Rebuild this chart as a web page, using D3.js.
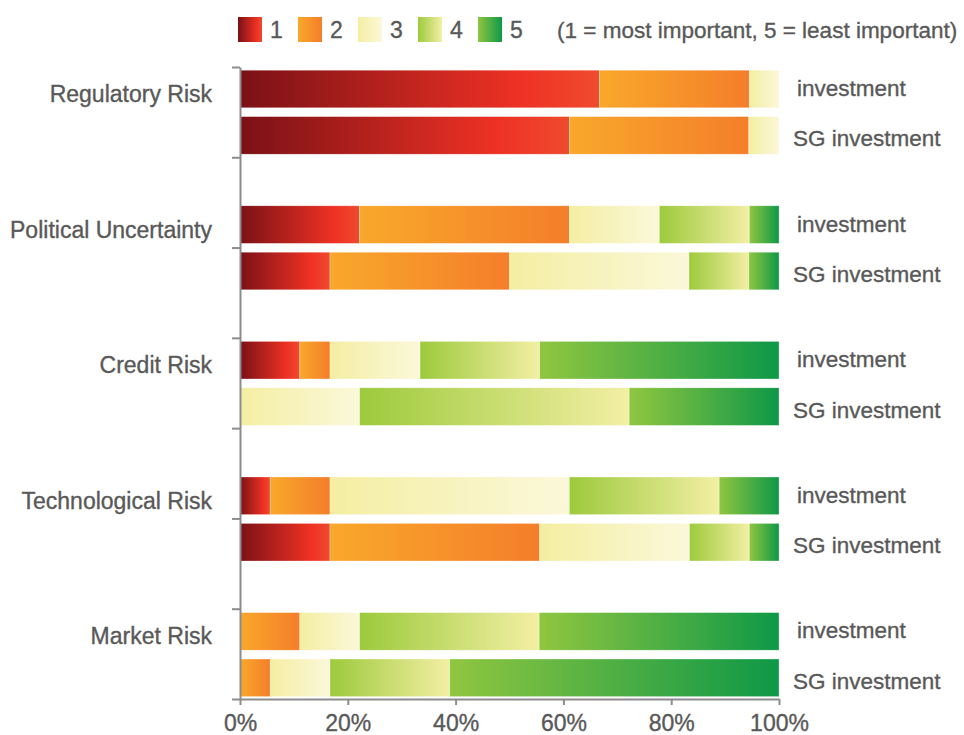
<!DOCTYPE html>
<html>
<head>
<meta charset="utf-8">
<script src="https://cdn.jsdelivr.net/npm/d3@7"></script>
<style>
  body { margin: 0; background: #fff; }
  svg { display: block; font-family: 'Liberation Sans', Arial, sans-serif; }
  .axis path, .axis line { stroke: #8c8c8c; stroke-width: 2; }
  .axis text { fill: #595959; font-size: 23px; stroke: #595959; stroke-width: 0.35; }
  .label { fill: #595959; font-size: 23px; stroke: #595959; stroke-width: 0.35; }
  .series-label, .note { font-size: 22.5px; }
</style>
</head>
<body>
<svg id="chart" width="964" height="735"></svg>
<script>
const categories = [
  'Regulatory Risk',
  'Political Uncertainty',
  'Credit Risk',
  'Technological Risk',
  'Market Risk'
];

const seriesNames = ['investment', 'SG investment'];

const levels = ['1', '2', '3', '4', '5'];

// share of answers per importance level (%), one row per category
const investmentShares = [
  [66.7, 27.8, 5.5, 0, 0],
  [22.2, 38.9, 16.7, 16.7, 5.5],
  [11.1, 5.6, 16.7, 22.2, 44.4],
  [5.6, 11.1, 44.4, 27.8, 11.1],
  [0, 11.1, 11.1, 33.3, 44.5]
];

const sgInvestmentShares = [
  [61.1, 33.3, 5.6, 0, 0],
  [16.7, 33.3, 33.3, 11.1, 5.6],
  [0, 0, 22.2, 50.0, 27.8],
  [16.7, 38.9, 27.8, 11.1, 5.5],
  [0, 5.6, 11.1, 22.2, 61.1]
];

const xTicks = [0, 0.2, 0.4, 0.6, 0.8, 1];

const legendNote = '(1 = most important, 5 = least important)';

const gradientStops = {
  '1': [[0, '#7a1116'], [0.78, '#ee3124'], [1, '#ef4b2e']],
  '2': [[0, '#f9a82b'], [1, '#f47e2a']],
  '3': [[0, '#f4eea2'], [1, '#fbf8da']],
  '4': [[0, '#9dca3c'], [1, '#f3efa4']],
  '5': [[0, '#90c640'], [1, '#0e9847']]
};

const svg = d3.select('#chart');

const defs = svg.append('defs');
levels.forEach(l => {
  const grad = defs
    .append('linearGradient')
    .attr('id', `grad-${l}`)
    .attr('x1', 0)
    .attr('x2', 1)
    .attr('y1', 0)
    .attr('y2', 0);
  grad
    .selectAll('stop')
    .data(gradientStops[l])
    .join('stop')
    .attr('offset', d => d[0])
    .attr('stop-color', d => d[1]);
});

// rows: one per category x series
const rows = [];
categories.forEach((c, i) => {
  [investmentShares[i], sgInvestmentShares[i]].forEach((vals, j) => {
    const total = d3.sum(vals);
    const row = { category: c, series: seriesNames[j] };
    levels.forEach((l, k) => (row[l] = vals[k] / total));
    rows.push(row);
  });
});

const x = d3.scaleLinear().domain([0, 1]).range([240, 779]);

const yCat = d3.scaleBand().domain(categories).range([44.2, 722.2]);

const ySub = d3
  .scaleBand()
  .domain(seriesNames)
  .range([26, 110])
  .paddingInner(0.19);

const stacked = d3.stack().keys(levels)(rows);

const g = svg.append('g');

g.selectAll('.layer')
  .data(stacked)
  .join('g')
  .attr('class', 'layer')
  .attr('fill', d => `url(#grad-${d.key})`)
  .selectAll('rect')
  .data(d => d.filter(s => s[1] - s[0] > 0))
  .join('rect')
  .attr('x', d => x(d[0]))
  .attr('width', d => x(d[1]) - x(d[0]))
  .attr('y', d => yCat(d.data.category) + ySub(d.data.series))
  .attr('height', ySub.bandwidth())
  .attr('stroke', 'rgba(255,255,255,0.5)')
  .attr('stroke-width', 0.6);

// left axis with plain tick marks
const yTickScale = d3.scaleLinear().domain([0, 7]).range([67, 699]);
g.append('g')
  .attr('class', 'axis')
  .attr('transform', `translate(${x(0)},0)`)
  .call(
    d3
      .axisLeft(yTickScale)
      .tickValues(d3.range(8))
      .tickSize(8)
      .tickSizeOuter(0)
      .tickFormat('')
  );

g.append('g')
  .attr('class', 'axis')
  .attr('transform', `translate(0,${yTickScale(7)})`)
  .call(
    d3
      .axisBottom(x)
      .tickValues(xTicks)
      .tickSize(6)
      .tickSizeOuter(0)
      .tickPadding(10)
      .tickFormat(d3.format('.0%'))
  );

// category labels
g.selectAll('.cat-label')
  .data(categories)
  .join('text')
  .attr('class', 'label cat-label')
  .attr('x', 212)
  .attr('y', d => yCat(d) + yCat.bandwidth() / 2 - 10)
  .attr('text-anchor', 'end')
  .text(d => d);

// series labels on the right
g.selectAll('.series-label')
  .data(rows)
  .join('text')
  .attr('class', 'label series-label')
  .attr('x', d => (d.series === 'investment' ? 797 : 793))
  .attr(
    'y',
    d =>
      yCat(d.category) +
      ySub(d.series) +
      ySub.bandwidth() / 2 +
      (d.series === 'investment' ? 7 : 11)
  )
  .text(d => d.series);

// legend
const legend = svg.append('g').attr('transform', 'translate(238,17)');
const item = legend
  .selectAll('.item')
  .data(levels)
  .join('g')
  .attr('class', 'item')
  .attr('transform', (d, i) => `translate(${i * 60},0)`);

item
  .append('rect')
  .attr('width', 24)
  .attr('height', 25)
  .attr('fill', d => `url(#grad-${d})`);

item
  .append('text')
  .attr('class', 'label')
  .attr('x', 32)
  .attr('y', 21)
  .text(d => d);

legend
  .append('text')
  .attr('class', 'label note')
  .attr('x', 319)
  .attr('y', 21)
  .text(legendNote);
</script>
</body>
</html>
